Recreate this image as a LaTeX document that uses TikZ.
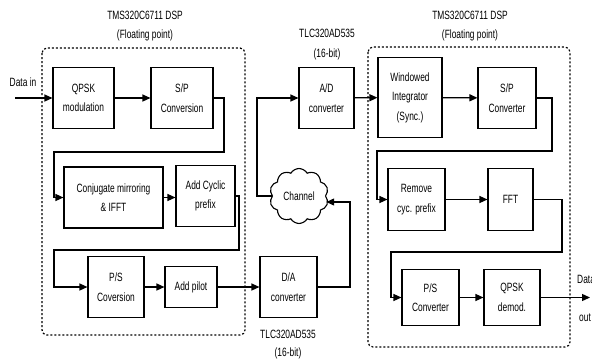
\documentclass[tikz,border=0pt]{standalone}
\usepackage{fontspec}
\setmainfont{Liberation Sans}[FakeStretch=0.7]
\usetikzlibrary{arrows.meta,shapes.symbols,calc}
\begin{document}
\begin{tikzpicture}[x=1pt,y=-1pt,
  txt/.style={font=\fontsize{12}{19.5}\selectfont,align=center,inner sep=0pt},
  box/.style={txt,draw,line width=1.1pt},
  arr/.style={line width=1.3pt,-{Triangle[length=8pt,width=7pt]}},
  dbox/.style={line width=1.2pt,dash pattern=on 2pt off 2pt,rounded corners=5pt}]
\useasboundingbox (0,0) rectangle (592,362);
\fill[white] (0,0) rectangle (592,362);
\clip (0,0) rectangle (592,362);
% dashed DSP frames
\draw[dbox] (42,48) rectangle (245,335);
\draw[dbox] (368,47) rectangle (570,347);
% titles
\node[txt] (t1) at (145,15) {TMS320C6711 DSP};
\node[txt] (t2) at (145,35) {(Floating point)};
\node[txt] (t3) at (470,15) {TMS320C6711 DSP};
\node[txt] (t4) at (470,35) {(Floating point)};
\node[txt] (t5) at (327,33) {TLC320AD535};
\node[txt] (t6) at (327,54) {(16-bit)};
\node[txt] (t7) at (288,334) {TLC320AD535};
\node[txt] (t8) at (288,353) {(16-bit)};
\node[txt] (lin) at (23,82) {Data in};
\node[txt,anchor=west] (lout1) at (577,279) {Data};
\node[txt,anchor=west] (lout2) at (579,318) {out};
% transmitter
\node[box,minimum width=61pt,minimum height=61pt] (qpsk) at (83.5,98) {QPSK\\modulation};
\node[box,minimum width=62pt,minimum height=61pt] (sp) at (182,98) {S/P\\Conversion};
\node[box,minimum width=99pt,minimum height=61pt] (conj) at (113.5,197.5) {Conjugate mirroring\\\& IFFT};
\node[box,minimum width=59pt,minimum height=61pt] (acp) at (205.5,196) {Add Cyclic\\prefix};
\node[box,minimum width=56pt,minimum height=61pt] (ps) at (116,287) {P/S\\Coversion};
\node[box,minimum width=52pt,minimum height=41pt] (pil) at (191,287) {Add pilot};
\node[box,minimum width=57pt,minimum height=61pt] (da) at (288.5,287) {D/A\\converter};
% channel and A/D
\node[txt,draw,line width=1.1pt,cloud,cloud puffs=10,cloud puff arc=120,aspect=1.1,minimum width=59pt,minimum height=55pt] (chan) at (299,196) {Channel};
\node[box,minimum width=55pt,minimum height=61pt] (ad) at (326.5,98) {A/D\\converter};
% receiver
\node[box,minimum width=64pt,minimum height=80pt] (win) at (410,97.5) {Windowed\\Integrator\\(Sync.)};
\node[box,minimum width=58pt,minimum height=61pt] (spc) at (507,98) {S/P\\Converter};
\node[box,minimum width=57pt,minimum height=62pt] (rem) at (416.5,199.5) {Remove\\cyc. prefix};
\node[box,minimum width=45pt,minimum height=62pt] (fft) at (510.5,199.5) {FFT};
\node[box,minimum width=57pt,minimum height=56pt] (psc) at (430.5,297.5) {P/S\\Converter};
\node[box,minimum width=56pt,minimum height=56pt] (qd) at (512,297.5) {QPSK\\demod.};
% routing coordinates
\coordinate (din) at (15,98);
\coordinate (a1) at (224,152);
\coordinate (a2) at (54,152);
\coordinate (b1) at (239,250);
\coordinate (b2) at (54,250);
\coordinate (c1) at (350,202);
\coordinate (c2) at (257,98);
\coordinate (d1) at (552,151);
\coordinate (d2) at (377,151);
\coordinate (e1) at (562,252);
\coordinate (e2) at (391,252);
\coordinate (dout) at (590,297.5);
% connectors
\draw[arr] (din) -- (qpsk.west);
\draw[arr] (qpsk) -- (sp);
\draw[arr] (sp.east) -| (a1) -- (a2) |- (conj.west);
\draw[arr] (conj.east) -- (conj.east -| acp.west);
\draw[arr] (acp.east) -| (b1) -- (b2) |- (ps.west);
\draw[arr] (ps) -- (pil);
\draw[arr] (pil) -- (da);
\draw[arr] (da.east) -| (c1) -- (c1 -| chan.east);
\draw[arr] (chan.west) -| (c2) -- (ad.west);
\draw[arr] (ad) -- (win);
\draw[arr] (win) -- (spc);
\draw[arr] (spc.east) -| (d1) -- (d2) |- (rem.west);
\draw[arr] (rem) -- (fft);
\draw[arr] (fft.east) -| (e1) -- (e2) |- (psc.west);
\draw[arr] (psc) -- (qd);
\draw[arr] (qd) -- (dout);
\end{tikzpicture}
\end{document}
